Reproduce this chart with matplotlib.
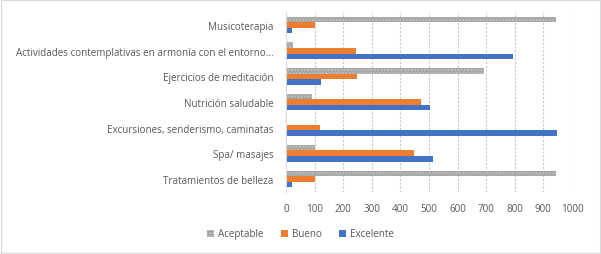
import matplotlib
matplotlib.use('Agg')
import matplotlib.pyplot as plt
import numpy as np

# Datos
categorias = ["Tratamientos de belleza", "Spa/ masajes", "Excursiones, senderismo, caminatas",
              "Nutrición saludable", "Ejercicios de meditación",
              "Actividades contemplativas en armonía con el entorno...", "Musicoterapia"]
aceptable = [943, 102, 0, 92, 692, 25, 943]
bueno = [102, 448, 120, 472, 249, 245, 102]
excelente = [22, 514, 947, 503, 123, 793, 22]

plt.rcParams['font.family'] = ['Open Sans', 'DejaVu Sans']
gris_texto = '#595959'

fig = plt.figure(figsize=(6.01, 2.55), dpi=100)
ax = fig.add_axes([286/601, 1-192.8/255, (572-286)/601, 179.6/255])

y = np.arange(len(categorias))
h = 0.22
ax.barh(y + h, aceptable, height=h, color='#A5A5A5', hatch='.....', edgecolor='#C4C4C4', linewidth=0, label='Aceptable')
ax.barh(y, bueno, height=h, color='#ED7D31', label='Bueno')
ax.barh(y - h, excelente, height=h, color='#4472C4', label='Excelente')

ax.set_xlim(0, 1000)
ax.set_ylim(-0.5, len(categorias) - 0.5)
ax.set_xticks(np.arange(0, 1001, 100))
ax.set_yticks(y)
ax.set_yticklabels(categorias)
ax.tick_params(axis='both', length=0, labelsize=7.1, colors=gris_texto)
ax.tick_params(axis='y', pad=9)
ax.tick_params(axis='x', pad=8)
ax.grid(axis='x', color='#C8C8C8', linestyle=(0, (2, 1.5)), linewidth=0.8)
ax.set_axisbelow(True)
for lado in ['top', 'right', 'bottom']:
    ax.spines[lado].set_visible(False)
ax.spines['left'].set_color('#D9D9D9')
ax.spines['left'].set_linewidth(0.8)

fig.legend(loc='center', bbox_to_anchor=(0.5, 1-235/255), ncol=3, frameon=False,
           fontsize=7.1, labelcolor=gris_texto, handlelength=0.7, handleheight=0.7,
           columnspacing=1.8, handletextpad=0.4)

# marco de la figura
fig.patches.append(plt.Rectangle((0.001, 0.002), 0.997, 0.995, transform=fig.transFigure,
                                 fill=False, edgecolor='#D9D9D9', linewidth=0.8))

plt.savefig('out.png', dpi=100)
